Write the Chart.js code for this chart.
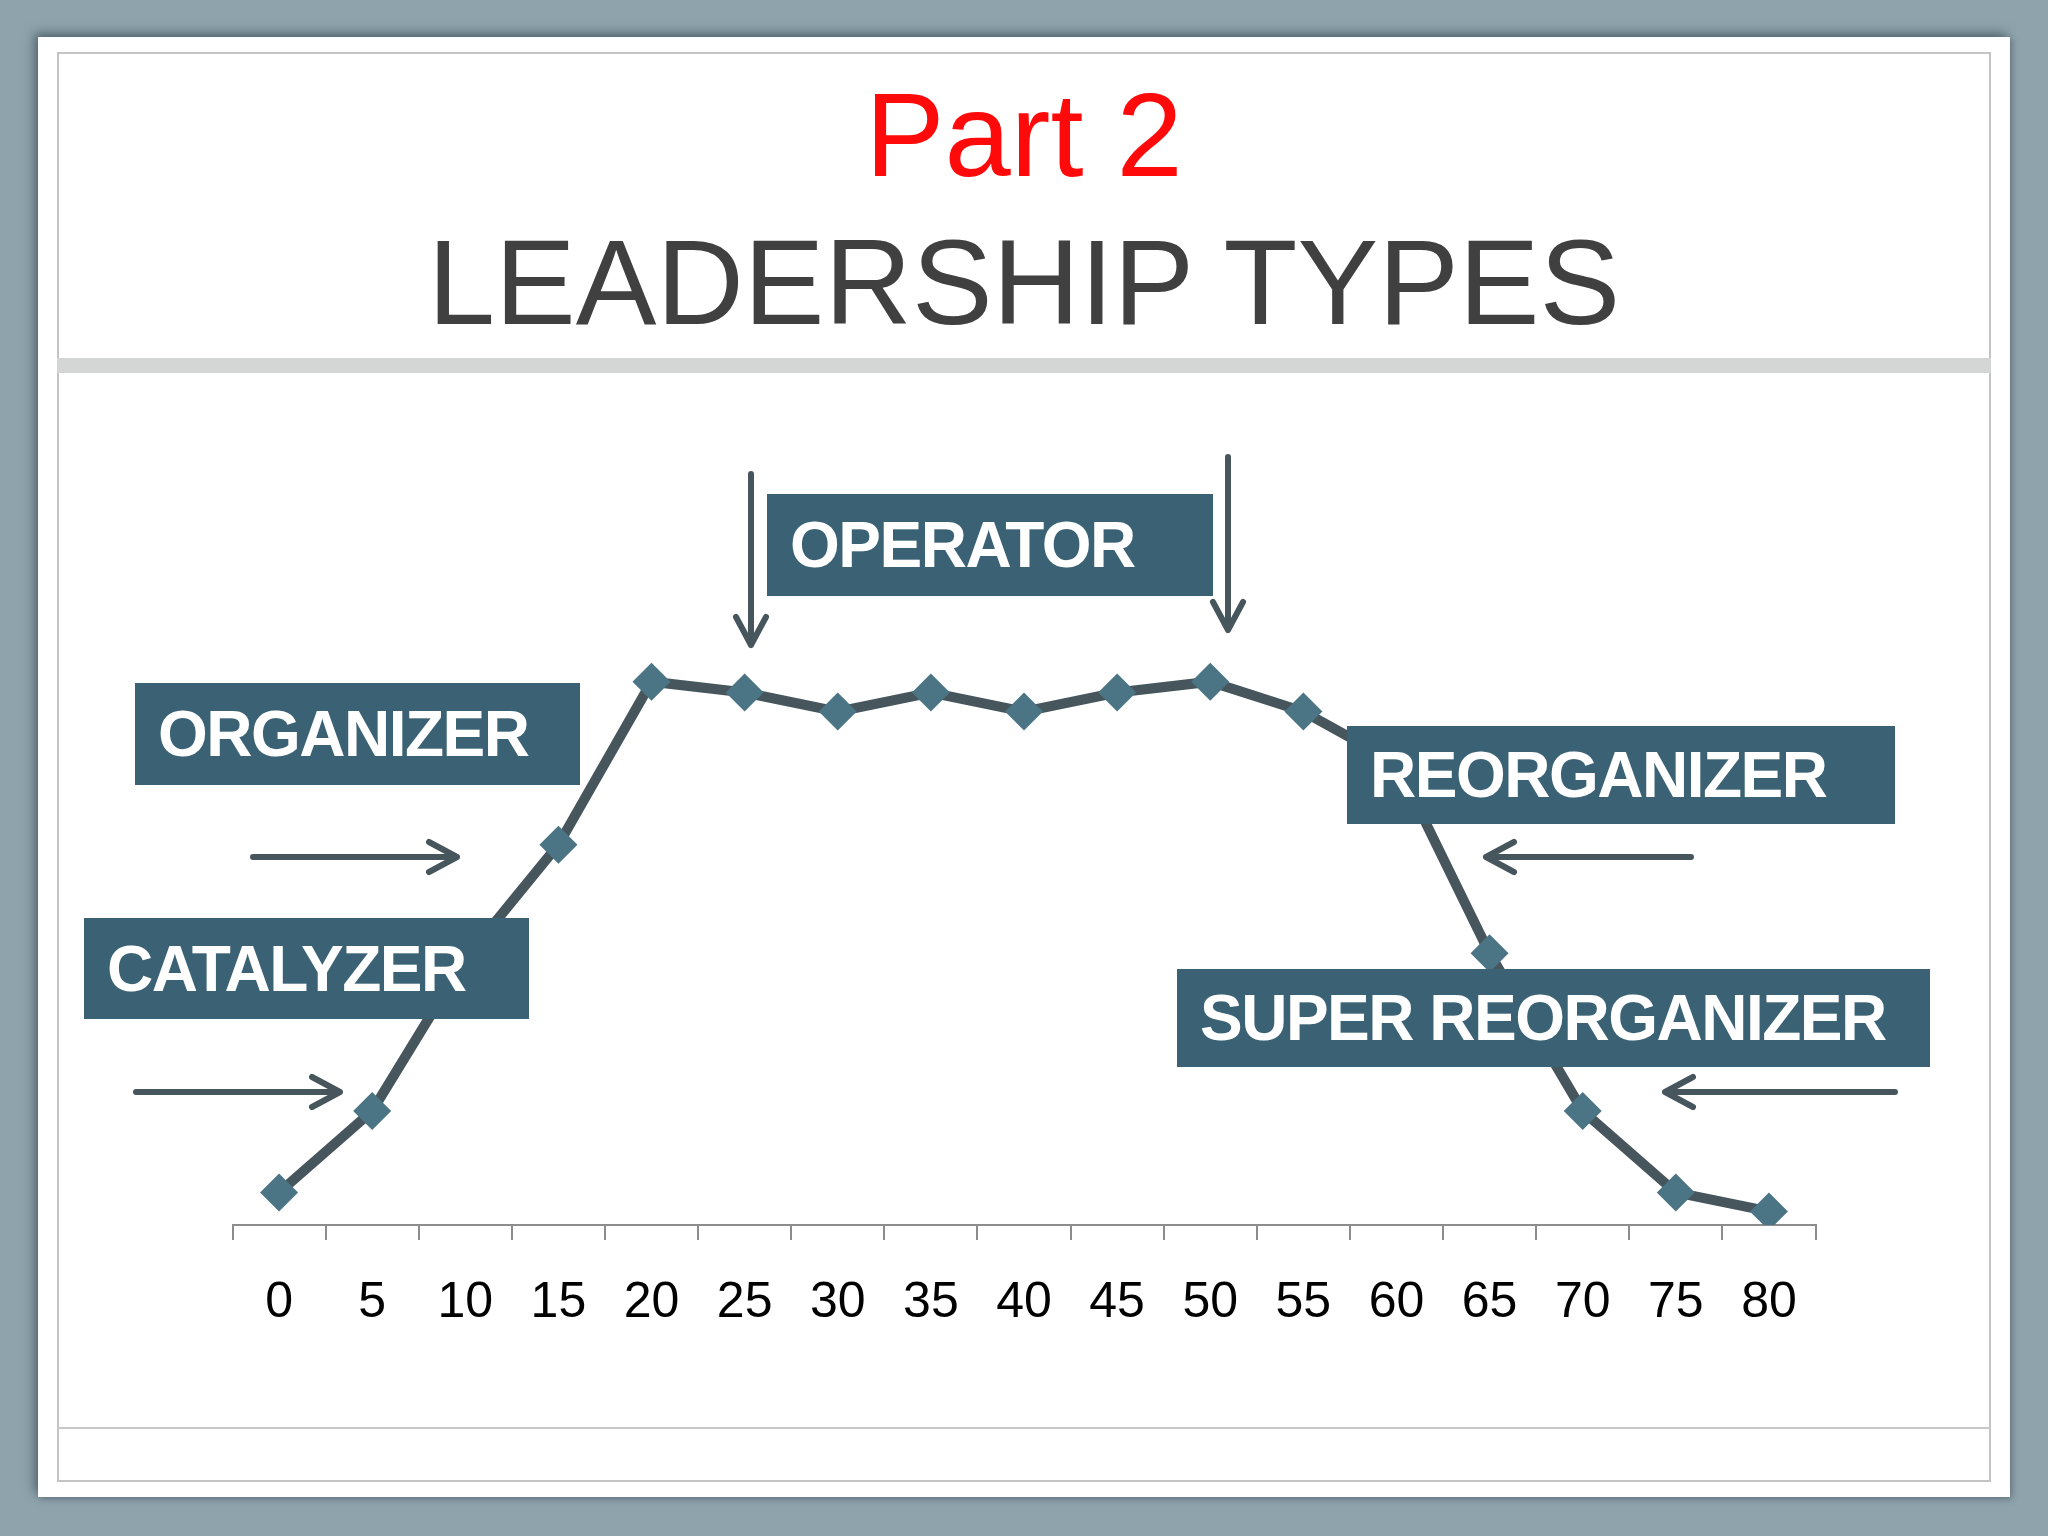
<!DOCTYPE html>
<html>
<head>
<meta charset="utf-8">
<script src="https://cdn.jsdelivr.net/npm/chart.js@4.4.1/dist/chart.umd.min.js"></script>
<style>
  html, body { margin: 0; padding: 0; }
  body { width: 2048px; height: 1536px; background: #8fa3ad; position: relative; overflow: hidden; font-family: "Liberation Sans", Arial, sans-serif; }
  #card { position: absolute; left: 38px; top: 37px; width: 1972px; height: 1460px; background: #fff; box-shadow: -4px -4px 10px rgba(40,60,70,0.55), 2px 2px 6px rgba(40,60,70,0.35); }
  #frame { position: absolute; left: 57px; top: 52px; width: 1930px; height: 1426px; border: 2px solid #c4c4c2; }
  #band { position: absolute; left: 57px; top: 358px; width: 1934px; height: 15px; background: #d3d6d5; }
  #footline { position: absolute; left: 57px; top: 1427px; width: 1934px; height: 2px; background: #c8c8c8; }
  .title { position: absolute; left: 57px; width: 1934px; text-align: center; white-space: nowrap; }
  #part { top: 75px; font-size: 119px; line-height: 119px; color: #ff0a0a; }
  #lead { top: 222px; font-size: 121px; line-height: 121px; color: #404040; }
  #chartWrap { position: absolute; left: 0; top: 0; width: 2048px; height: 1536px; }
  .tag { position: absolute; background: #3a6274; color: #fff; font-weight: bold; font-size: 64px; letter-spacing: -1.5px; box-sizing: border-box; padding-left: 23px; display: flex; align-items: center; white-space: nowrap; }
  #arrows { position: absolute; left: 0; top: 0; }
</style>
</head>
<body>
<div id="card"></div>
<div id="frame"></div>
<div id="band"></div>
<div id="footline"></div>
<div class="title" id="part">Part 2</div>
<div class="title" id="lead">LEADERSHIP TYPES</div>
<div id="chartWrap"><canvas id="chart" width="2048" height="1536"></canvas></div>
<svg id="arrows" width="2048" height="1536"></svg>
<script>
// ages along the career, and how strongly each stage shows
const ages = ['0', '5', '10', '15', '20', '25', '30', '35', '40', '45', '50', '55', '60', '65', '70', '75', '80']
const levels = [6, 21, 49, 70, 100, 98, 94.5, 98, 94.5, 98, 100, 94.5, 85, 50, 21, 6, 2.5]

// stage labels drawn on top of the curve
const tags = [
  { text: 'OPERATOR', left: 767, top: 494, width: 446, height: 102 },
  { text: 'ORGANIZER', left: 135, top: 683, width: 445, height: 102 },
  { text: 'CATALYZER', left: 84, top: 918, width: 445, height: 101 },
  { text: 'REORGANIZER', left: 1347, top: 726, width: 548, height: 98 },
  { text: 'SUPER REORGANIZER', left: 1177, top: 969, width: 753, height: 98 }
]

// arrows: start point -> tip
const arrows = [
  [751, 474, 751, 645],
  [1228, 457, 1228, 630],
  [253, 857, 457, 857],
  [136, 1092, 340, 1092],
  [1691, 857, 1486, 857],
  [1895, 1092, 1665, 1092]
]

const lineColor = '#46565c'
const markColor = '#4b7585'

tags.forEach(t => {
  const d = document.createElement('div')
  d.className = 'tag'
  d.textContent = t.text
  d.style.left = t.left + 'px'
  d.style.top = t.top + 'px'
  d.style.width = t.width + 'px'
  d.style.height = t.height + 'px'
  document.body.appendChild(d)
})

const svg = document.getElementById('arrows')
const NS = 'http://www.w3.org/2000/svg'
arrows.forEach(([x1, y1, x2, y2]) => {
  const len = Math.hypot(x2 - x1, y2 - y1)
  const ux = (x2 - x1) / len, uy = (y2 - y1) / len
  const back = 28, side = 15
  const bx = x2 - ux * back, by = y2 - uy * back
  const p = document.createElementNS(NS, 'path')
  p.setAttribute('d', `M${x1},${y1} L${x2},${y2} M${bx - uy * side},${by + ux * side} L${x2},${y2} L${bx + uy * side},${by - ux * side}`)
  p.setAttribute('stroke', lineColor)
  p.setAttribute('stroke-width', '6')
  p.setAttribute('fill', 'none')
  p.setAttribute('stroke-linecap', 'round')
  p.setAttribute('stroke-linejoin', 'round')
  svg.appendChild(p)
})

const ctx = document.getElementById('chart').getContext('2d')
new Chart(ctx, {
  type: 'line',
  data: {
    labels: ages,
    datasets: [{
      data: levels,
      borderColor: lineColor,
      borderWidth: 10,
      backgroundColor: markColor,
      pointStyle: 'rectRot',
      pointRadius: 19,
      pointBorderWidth: 0,
      pointBackgroundColor: markColor,
      tension: 0,
      fill: false
    }]
  },
  options: {
    responsive: false,
    devicePixelRatio: 1,
    animation: false,
    events: [],
    layout: { padding: { left: 232.5, right: 232.5, top: 573, bottom: 201 } },
    plugins: { legend: { display: false }, tooltip: { enabled: false }, title: { display: false } },
    scales: {
      x: {
        type: 'category',
        offset: true,
        grid: { offset: true, drawOnChartArea: false, drawTicks: true, tickLength: 15, color: '#8c8c8c', lineWidth: 2 },
        border: { display: true, color: '#8c8c8c', width: 2 },
        ticks: { color: '#000', padding: 33, font: { family: '"Liberation Sans", Arial, sans-serif', size: 50 }, maxRotation: 0, autoSkip: false },
        afterFit: (scale) => { scale.height = 110 }
      },
      y: { display: false, min: 0, max: 120 }
    }
  }
})
</script>
</body>
</html>
